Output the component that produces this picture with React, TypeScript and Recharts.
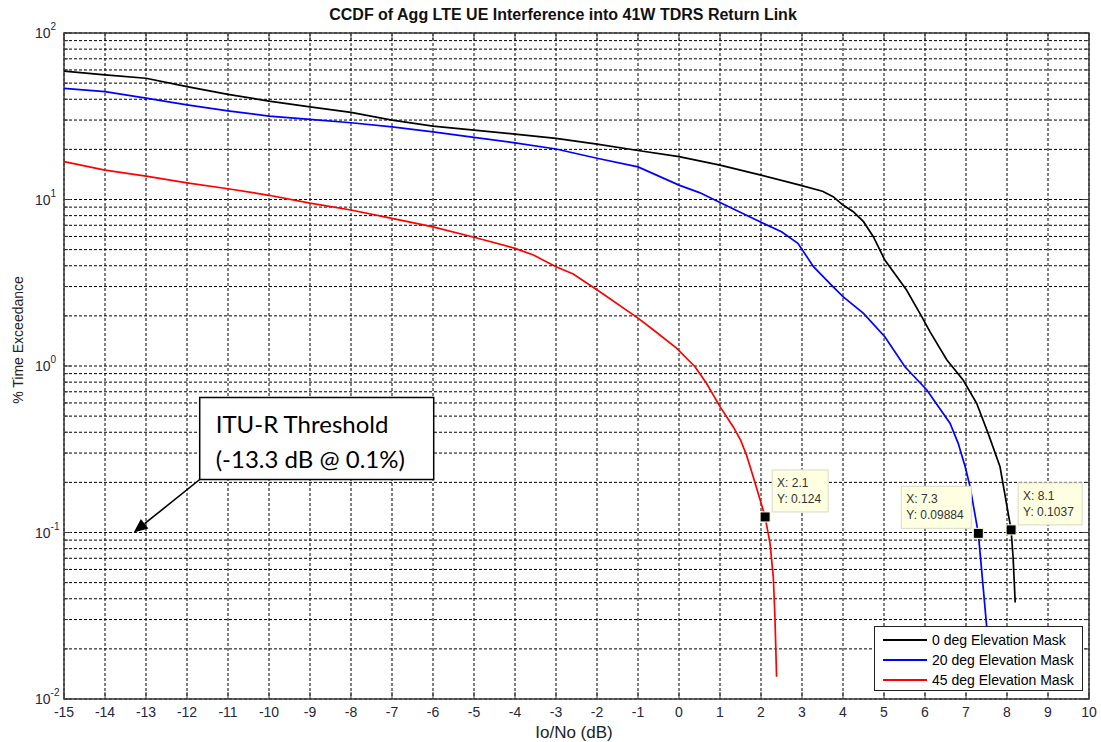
import React from 'react';
import {
  LineChart,
  Line,
  XAxis,
  YAxis,
  CartesianGrid,
  ReferenceDot,
  ReferenceArea,
  Legend,
} from 'recharts';

// ---- chart data -------------------------------------------------------
const xTicks = [-15, -14, -13, -12, -11, -10, -9, -8, -7, -6, -5, -4, -3, -2, -1, 0, 1, 2, 3, 4, 5, 6, 7, 8, 9, 10];

const yTicks = [
  0.01, 0.02, 0.03, 0.04, 0.05, 0.06, 0.07, 0.08, 0.09,
  0.1, 0.2, 0.3, 0.4, 0.5, 0.6, 0.7, 0.8, 0.9,
  1, 2, 3, 4, 5, 6, 7, 8, 9,
  10, 20, 30, 40, 50, 60, 70, 80, 90,
  100,
];
const decadeTicks = [0.01, 0.1, 1, 10, 100];
const decadeExponents = ['-2', '-1', '0', '1', '2'];

// Io/No (dB) vs % time exceedance
const mask0: [number, number][] = [
  [-15, 59], [-14, 56], [-13, 53.5], [-12, 47.6], [-11, 42.8], [-10, 39], [-9, 36],
  [-8, 33.4], [-7, 30], [-6, 27.6], [-5, 26.1], [-4, 24.7], [-3, 23.3], [-2, 21.5],
  [-1, 19.7], [0, 18.1], [1, 16.1], [2, 14.0], [2.95, 12.2], [3.5, 11.2],
  [3.76, 10.4], [4, 9.26], [4.25, 8.45], [4.5, 7.36], [4.74, 5.98], [5.02, 4.33], [5.55, 2.86],
  [5.92, 1.98], [6.12, 1.61], [6.53, 1.09], [6.93, 0.824], [7.26, 0.597], [7.54, 0.394],
  [7.83, 0.248], [8.03, 0.13], [8.1, 0.1037], [8.15, 0.07], [8.2, 0.038],
];

const mask20: [number, number][] = [
  [-15, 46.5], [-14, 44.5], [-13, 40.6], [-12, 37], [-11, 34.1], [-10, 31.7], [-9, 30.3],
  [-8, 28.9], [-7, 27.3], [-6, 25.5], [-5, 23.6], [-4, 21.9], [-3, 20.1], [-2, 17.7],
  [-1, 15.7], [-0.63, 14.3], [0, 12.2], [0.5, 11.0], [1, 9.6], [2, 7.3], [2.5, 6.4],
  [2.9, 5.46], [3.28, 3.95], [3.76, 2.99], [4, 2.61], [4.5, 2.07], [5.02, 1.5],
  [5.51, 0.99], [6.04, 0.72], [6.61, 0.453], [6.81, 0.343], [6.98, 0.248], [7.1, 0.188],
  [7.3, 0.09884], [7.38, 0.06], [7.5, 0.028], [7.6, 0.018],
];

const mask45: [number, number][] = [
  [-15, 16.9], [-14, 15.0], [-13, 13.8], [-12, 12.6], [-11, 11.6], [-10, 10.6], [-9, 9.5],
  [-8, 8.65], [-7, 7.7], [-6, 6.85], [-5, 5.93], [-4, 5.09], [-3.55, 4.64], [-3, 3.95],
  [-2.58, 3.57], [-1.93, 2.79], [-1, 1.94], [-0.63, 1.65], [-0.06, 1.28], [0.39, 0.99],
  [0.67, 0.787], [1, 0.57], [1.32, 0.432], [1.5, 0.36], [1.65, 0.29], [1.81, 0.216],
  [1.98, 0.157], [2.1, 0.124], [2.22, 0.086], [2.3, 0.054], [2.34, 0.031], [2.38, 0.0136],
];

const seriesNames = ['0 deg Elevation Mask', '20 deg Elevation Mask', '45 deg Elevation Mask'];
const seriesColors = ['#000000', '#0000ff', '#ff0000'];
const seriesPoints = [mask0, mask20, mask45];

// data tips: value, which side the readout box sits on, box width
const dataTips: { x: number; y: number; side: 'left' | 'right'; w: number }[] = [
  { x: 2.1, y: 0.124, side: 'right', w: 56 },
  { x: 7.3, y: 0.09884, side: 'left', w: 70 },
  { x: 8.1, y: 0.1037, side: 'right', w: 64 },
];

const threshold = { x: -13.3, y: 0.1 };

// ---- layout ---------------------------------------------------------
const W = 1101;
const H = 742;
const MARGIN = { top: 33, right: 12, bottom: 0, left: 0 };
const Y_AXIS_W = 64;
const X_AXIS_H = 43;
const PLOT_W = W - MARGIN.right - Y_AXIS_W;
const Y_TICK_MARGIN = 29;
const X_TICK_MARGIN = 6;
const AXIS_COLOR = '#3a3a3a';
const TICK_TEXT = '#26263a';
const FONT = '"Liberation Sans", Arial, sans-serif';

const toRows = (pts: [number, number][]) => pts.map(([x, y]) => ({ x, y }));

const YTick = (props: any) => {
  const { x, y, payload } = props;
  const v = payload.value;
  const idx = decadeTicks.indexOf(v);
  const left = x + Y_TICK_MARGIN;
  const len = idx >= 0 ? 7 : 4;
  return (
    <g>
      <line x1={left} x2={left + len} y1={y} y2={y} stroke={AXIS_COLOR} strokeWidth={1} />
      <line x1={left + PLOT_W} x2={left + PLOT_W - len} y1={y} y2={y} stroke={AXIS_COLOR} strokeWidth={1} />
      {idx >= 0 && (
        <text x={x} y={y} dy={5} fontSize={14} fill={TICK_TEXT} fontFamily={FONT}>
          10
          <tspan dy={-8} fontSize={10}>{decadeExponents[idx]}</tspan>
        </text>
      )}
    </g>
  );
};

const XTick = (props: any) => {
  const { x, y, payload } = props;
  const base = y - X_TICK_MARGIN;
  return (
    <g>
      <line x1={x} x2={x} y1={base} y2={base - 7} stroke={AXIS_COLOR} strokeWidth={1} />
      <line x1={x} x2={x} y1={MARGIN.top} y2={MARGIN.top + 7} stroke={AXIS_COLOR} strokeWidth={1} />
      <text x={x} y={y} dy={12} textAnchor="middle" fontSize={14} fill={TICK_TEXT} fontFamily={FONT}>
        {payload.value}
      </text>
    </g>
  );
};

const TipShape = (tip: { x: number; y: number; side: 'left' | 'right'; w: number }) => (props: any) => {
  const { cx, cy } = props;
  if (cx == null || cy == null) return <g />;
  const bx = tip.side === 'right' ? cx + 7 : cx - 7 - tip.w;
  const by = cy - 47;
  return (
    <g>
      <rect x={bx} y={by} width={tip.w} height={42} fill="#ffffe1" stroke="#d9d9c4" strokeWidth={1} />
      <text x={bx + 5} y={by + 17} fontSize={12} fill="#333" fontFamily={FONT}>{`X: ${tip.x}`}</text>
      <text x={bx + 5} y={by + 33} fontSize={12} fill="#333" fontFamily={FONT}>{`Y: ${tip.y}`}</text>
      <rect x={cx - 5} y={cy - 5} width={10} height={10} fill="#000" stroke="#ffffe1" strokeWidth={1} />
    </g>
  );
};

const ThresholdShape = (props: any) => {
  const { cx, cy } = props;
  if (cx == null || cy == null) return <g />;
  const bx = cx + 66;
  const by = cy - 135;
  // arrow from the box corner to the target
  const sx = bx;
  const sy = by + 82;
  const ang = Math.atan2(cy - sy, cx - sx);
  const head = 14;
  const hw = 6;
  const hx = cx - head * Math.cos(ang);
  const hy = cy - head * Math.sin(ang);
  const p1x = hx + hw * Math.sin(ang);
  const p1y = hy - hw * Math.cos(ang);
  const p2x = hx - hw * Math.sin(ang);
  const p2y = hy + hw * Math.cos(ang);
  return (
    <g>
      <line x1={sx} y1={sy} x2={hx} y2={hy} stroke="#000" strokeWidth={1.6} />
      <polygon points={`${cx},${cy} ${p1x},${p1y} ${p2x},${p2y}`} fill="#000" />
      <rect x={bx} y={by} width={234} height={82} fill="#fff" stroke="#000" strokeWidth={1.5} />
      <text x={bx + 16} y={by + 35} fontSize={24} fill="#000" fontFamily='Lato, "Open Sans", sans-serif'>
        ITU-R Threshold
      </text>
      <text x={bx + 16} y={by + 70} fontSize={24} fill="#000" fontFamily='Lato, "Open Sans", sans-serif'>
        (-13.3 dB @ 0.1%)
      </text>
    </g>
  );
};

const LegendBox = () => (
  <div
    style={{
      width: 209,
      height: 65,
      border: '1px solid #222',
      background: '#fff',
      boxSizing: 'border-box',
      paddingTop: 3,
      fontFamily: FONT,
      fontSize: 14,
      color: '#000',
    }}
  >
    {seriesNames.map((name, i) => (
      <div key={name} style={{ display: 'flex', alignItems: 'center', height: 20 }}>
        <div style={{ width: 44, height: 2, background: seriesColors[i], marginLeft: 8, marginRight: 5 }} />
        <span style={{ whiteSpace: 'nowrap' }}>{name}</span>
      </div>
    ))}
  </div>
);

export default function App() {
  return (
    <div style={{ position: 'absolute', left: 0, top: 0, width: W, height: H, background: '#fff' }}>
      <LineChart width={W} height={H} margin={MARGIN}>
        <CartesianGrid stroke="#000" strokeDasharray="3 2" strokeWidth={1} />
        <XAxis
          dataKey="x"
          type="number"
          domain={[-15, 10]}
          ticks={xTicks}
          interval={0}
          allowDataOverflow
          height={X_AXIS_H}
          tickSize={0}
          tickMargin={X_TICK_MARGIN}
          axisLine={false}
          tick={(p: any) => <XTick {...p} />}
        />
        <YAxis
          type="number"
          scale="log"
          domain={[0.01, 100]}
          ticks={yTicks}
          interval={0}
          allowDataOverflow
          width={Y_AXIS_W}
          tickSize={0}
          tickMargin={Y_TICK_MARGIN}
          axisLine={false}
          tick={(p: any) => <YTick {...p} />}
        />
        <ReferenceArea x1={-15} x2={10} y1={0.01} y2={100} fill="none" stroke={AXIS_COLOR} strokeWidth={1.5} />
        {seriesPoints.map((pts, i) => (
          <Line
            key={seriesNames[i]}
            name={seriesNames[i]}
            data={toRows(pts)}
            dataKey="y"
            type="linear"
            stroke={seriesColors[i]}
            strokeWidth={1.7}
            dot={false}
            activeDot={false}
            isAnimationActive={false}
          />
        ))}
        {dataTips.map((t) => (
          <ReferenceDot key={t.x} x={t.x} y={t.y} r={5} shape={TipShape(t)} />
        ))}
        <ReferenceDot x={threshold.x} y={threshold.y} r={3} shape={ThresholdShape} />
        <Legend
          verticalAlign="middle"
          align="center"
          layout="vertical"
          content={() => <LegendBox />}
          wrapperStyle={{ left: 874, top: 626, width: 209, height: 65 }}
        />
      </LineChart>
      <div
        style={{
          position: 'absolute',
          left: 563,
          top: 6,
          transform: 'translateX(-50%)',
          whiteSpace: 'nowrap',
          fontFamily: FONT,
          fontWeight: 'bold',
          fontSize: 16,
          color: '#111',
        }}
      >
        CCDF of Agg LTE UE Interference into 41W TDRS Return Link
      </div>
      <div
        style={{
          position: 'absolute',
          left: 574,
          top: 723,
          transform: 'translateX(-50%)',
          whiteSpace: 'nowrap',
          fontFamily: FONT,
          fontSize: 17,
          color: '#222',
        }}
      >
        Io/No (dB)
      </div>
      <div
        style={{
          position: 'absolute',
          left: 18,
          top: 340,
          transform: 'translate(-50%, -50%) rotate(-90deg)',
          whiteSpace: 'nowrap',
          fontFamily: FONT,
          fontSize: 14,
          color: '#222',
        }}
      >
        % Time Exceedance
      </div>
    </div>
  );
}
